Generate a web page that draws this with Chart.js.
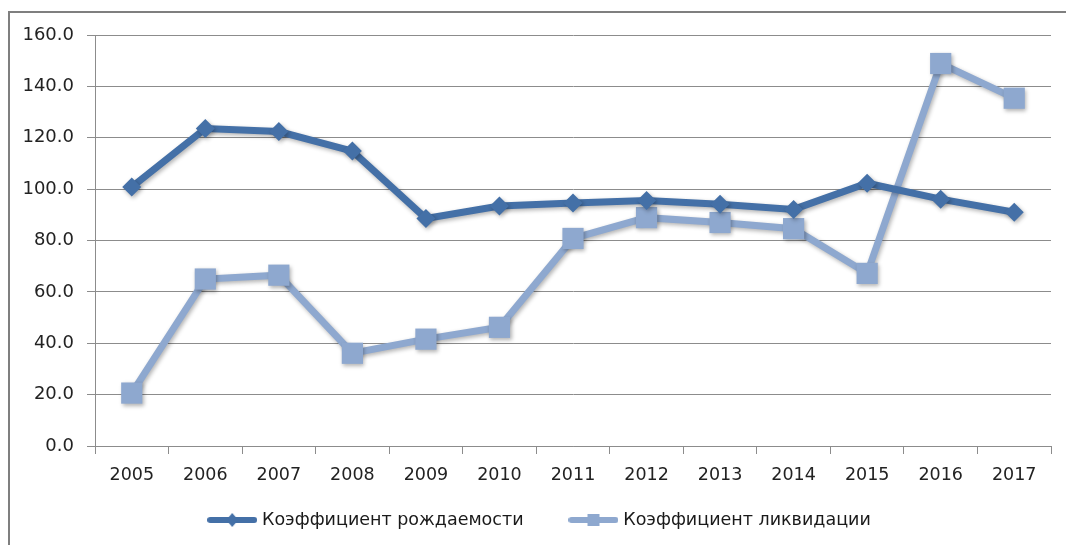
<!DOCTYPE html>
<html>
<head>
<meta charset="utf-8">
<script src="https://cdn.jsdelivr.net/npm/chart.js@4"></script>
<style>
  html, body { margin: 0; padding: 0; background: #fff; }
  #wrap { width: 1066px; height: 545px; }
</style>
</head>
<body>
<div id="wrap"><canvas id="chart" width="1066" height="545"></canvas></div>
<script>
const years = ['2005', '2006', '2007', '2008', '2009', '2010', '2011', '2012', '2013', '2014', '2015', '2016', '2017'];
const birthRate = [100.8, 123.6, 122.4, 114.8, 88.6, 93.4, 94.6, 95.6, 94.1, 92.1, 102.3, 96.1, 91.0];
const liquidationRate = [20.6, 65.0, 66.5, 36.1, 41.6, 46.2, 80.8, 88.9, 87.0, 84.6, 67.2, 148.9, 135.4];
const seriesNames = ['Коэффициент рождаемости', 'Коэффициент ликвидации'];
const yTicks = [0, 20, 40, 60, 80, 100, 120, 140, 160];

const darkBlue = '#4470a7';
const lightBlue = '#8ea8cf';
const gridGray = '#8c8c8c';
const fontFamily = '"DejaVu Sans", sans-serif';

// маленькие картинки для легенды: линия + маркер
function legendIcon(color, marker) {
  const c = document.createElement('canvas');
  c.width = 50; c.height = 16;
  const g = c.getContext('2d');
  g.strokeStyle = color;
  g.lineWidth = 6;
  g.lineCap = 'round';
  g.beginPath(); g.moveTo(3, 8); g.lineTo(47, 8); g.stroke();
  g.fillStyle = color;
  if (marker === 'diamond') {
    g.beginPath(); g.moveTo(25, 1); g.lineTo(31, 8); g.lineTo(25, 15); g.lineTo(19, 8); g.closePath(); g.fill();
  } else {
    g.fillRect(19, 2, 12, 12);
  }
  return c;
}

const frame = {
  id: 'frame',
  beforeDraw(chart) {
    const ctx = chart.ctx;
    ctx.save();
    ctx.strokeStyle = '#7f7f7f';
    ctx.lineWidth = 2;
    ctx.beginPath();
    ctx.moveTo(9, 560); ctx.lineTo(9, 12); ctx.lineTo(1080, 12);
    ctx.stroke();
    ctx.restore();
  }
};

const shadow = {
  id: 'shadow',
  beforeDatasetsDraw(chart) {
    const ctx = chart.ctx;
    ctx.save();
    ctx.shadowColor = 'rgba(0,0,0,0.3)';
    ctx.shadowBlur = 4;
    ctx.shadowOffsetX = 1.5;
    ctx.shadowOffsetY = 2;
  },
  afterDatasetsDraw(chart) {
    chart.ctx.restore();
  }
};

new Chart(document.getElementById('chart'), {
  type: 'line',
  data: {
    labels: years,
    datasets: [
      {
        label: seriesNames[0],
        data: birthRate,
        borderColor: darkBlue,
        backgroundColor: darkBlue,
        borderWidth: 7,
        pointStyle: 'rectRot',
        pointRadius: 9.5,
        pointBorderWidth: 0,
        tension: 0
      },
      {
        label: seriesNames[1],
        data: liquidationRate,
        borderColor: lightBlue,
        backgroundColor: lightBlue,
        borderWidth: 7,
        pointStyle: 'rect',
        pointRadius: 15,
        pointBorderWidth: 0,
        tension: 0
      }
    ]
  },
  options: {
    responsive: false,
    animation: false,
    layout: { padding: { top: 35, right: 4, left: 20, bottom: 6.25 } },
    plugins: {
      tooltip: { enabled: false },
      legend: {
        position: 'bottom',
        labels: {
          usePointStyle: true,
          pointStyleWidth: 42,
          padding: 10,
          color: '#1a1a1a',
          font: { family: fontFamily, size: 17.5 },
          generateLabels(chart) {
            return chart.data.datasets.map((ds, i) => ({
              // пробелы после первой подписи дают промежуток между элементами
              text: i === 0 ? ds.label + '       ' : ds.label,
              pointStyle: legendIcon(ds.borderColor, i === 0 ? 'diamond' : 'square'),
              fillStyle: ds.borderColor,
              strokeStyle: ds.borderColor,
              lineWidth: 0,
              fontColor: '#1a1a1a',
              datasetIndex: i
            }));
          }
        }
      }
    },
    scales: {
      x: {
        offset: true,
        afterFit(scale) { scale.height = 55.25; },
        grid: { display: true, drawOnChartArea: false, drawTicks: true, tickLength: 8, color: gridGray, offset: true },
        border: { color: gridGray, width: 1 },
        ticks: { color: '#222', font: { family: fontFamily, size: 17.5 }, padding: 11, maxRotation: 0 }
      },
      y: {
        min: 0,
        max: 160,
        afterFit(scale) { scale.width = 75; },
        afterBuildTicks(scale) { scale.ticks = yTicks.map(v => ({ value: v })); },
        grid: { color: gridGray, tickLength: 8 },
        border: { color: gridGray, width: 1 },
        ticks: {
          color: '#222',
          font: { family: fontFamily, size: 18 },
          padding: 13,
          callback: v => v.toFixed(1)
        }
      }
    }
  },
  plugins: [frame, shadow]
});
</script>
</body>
</html>
